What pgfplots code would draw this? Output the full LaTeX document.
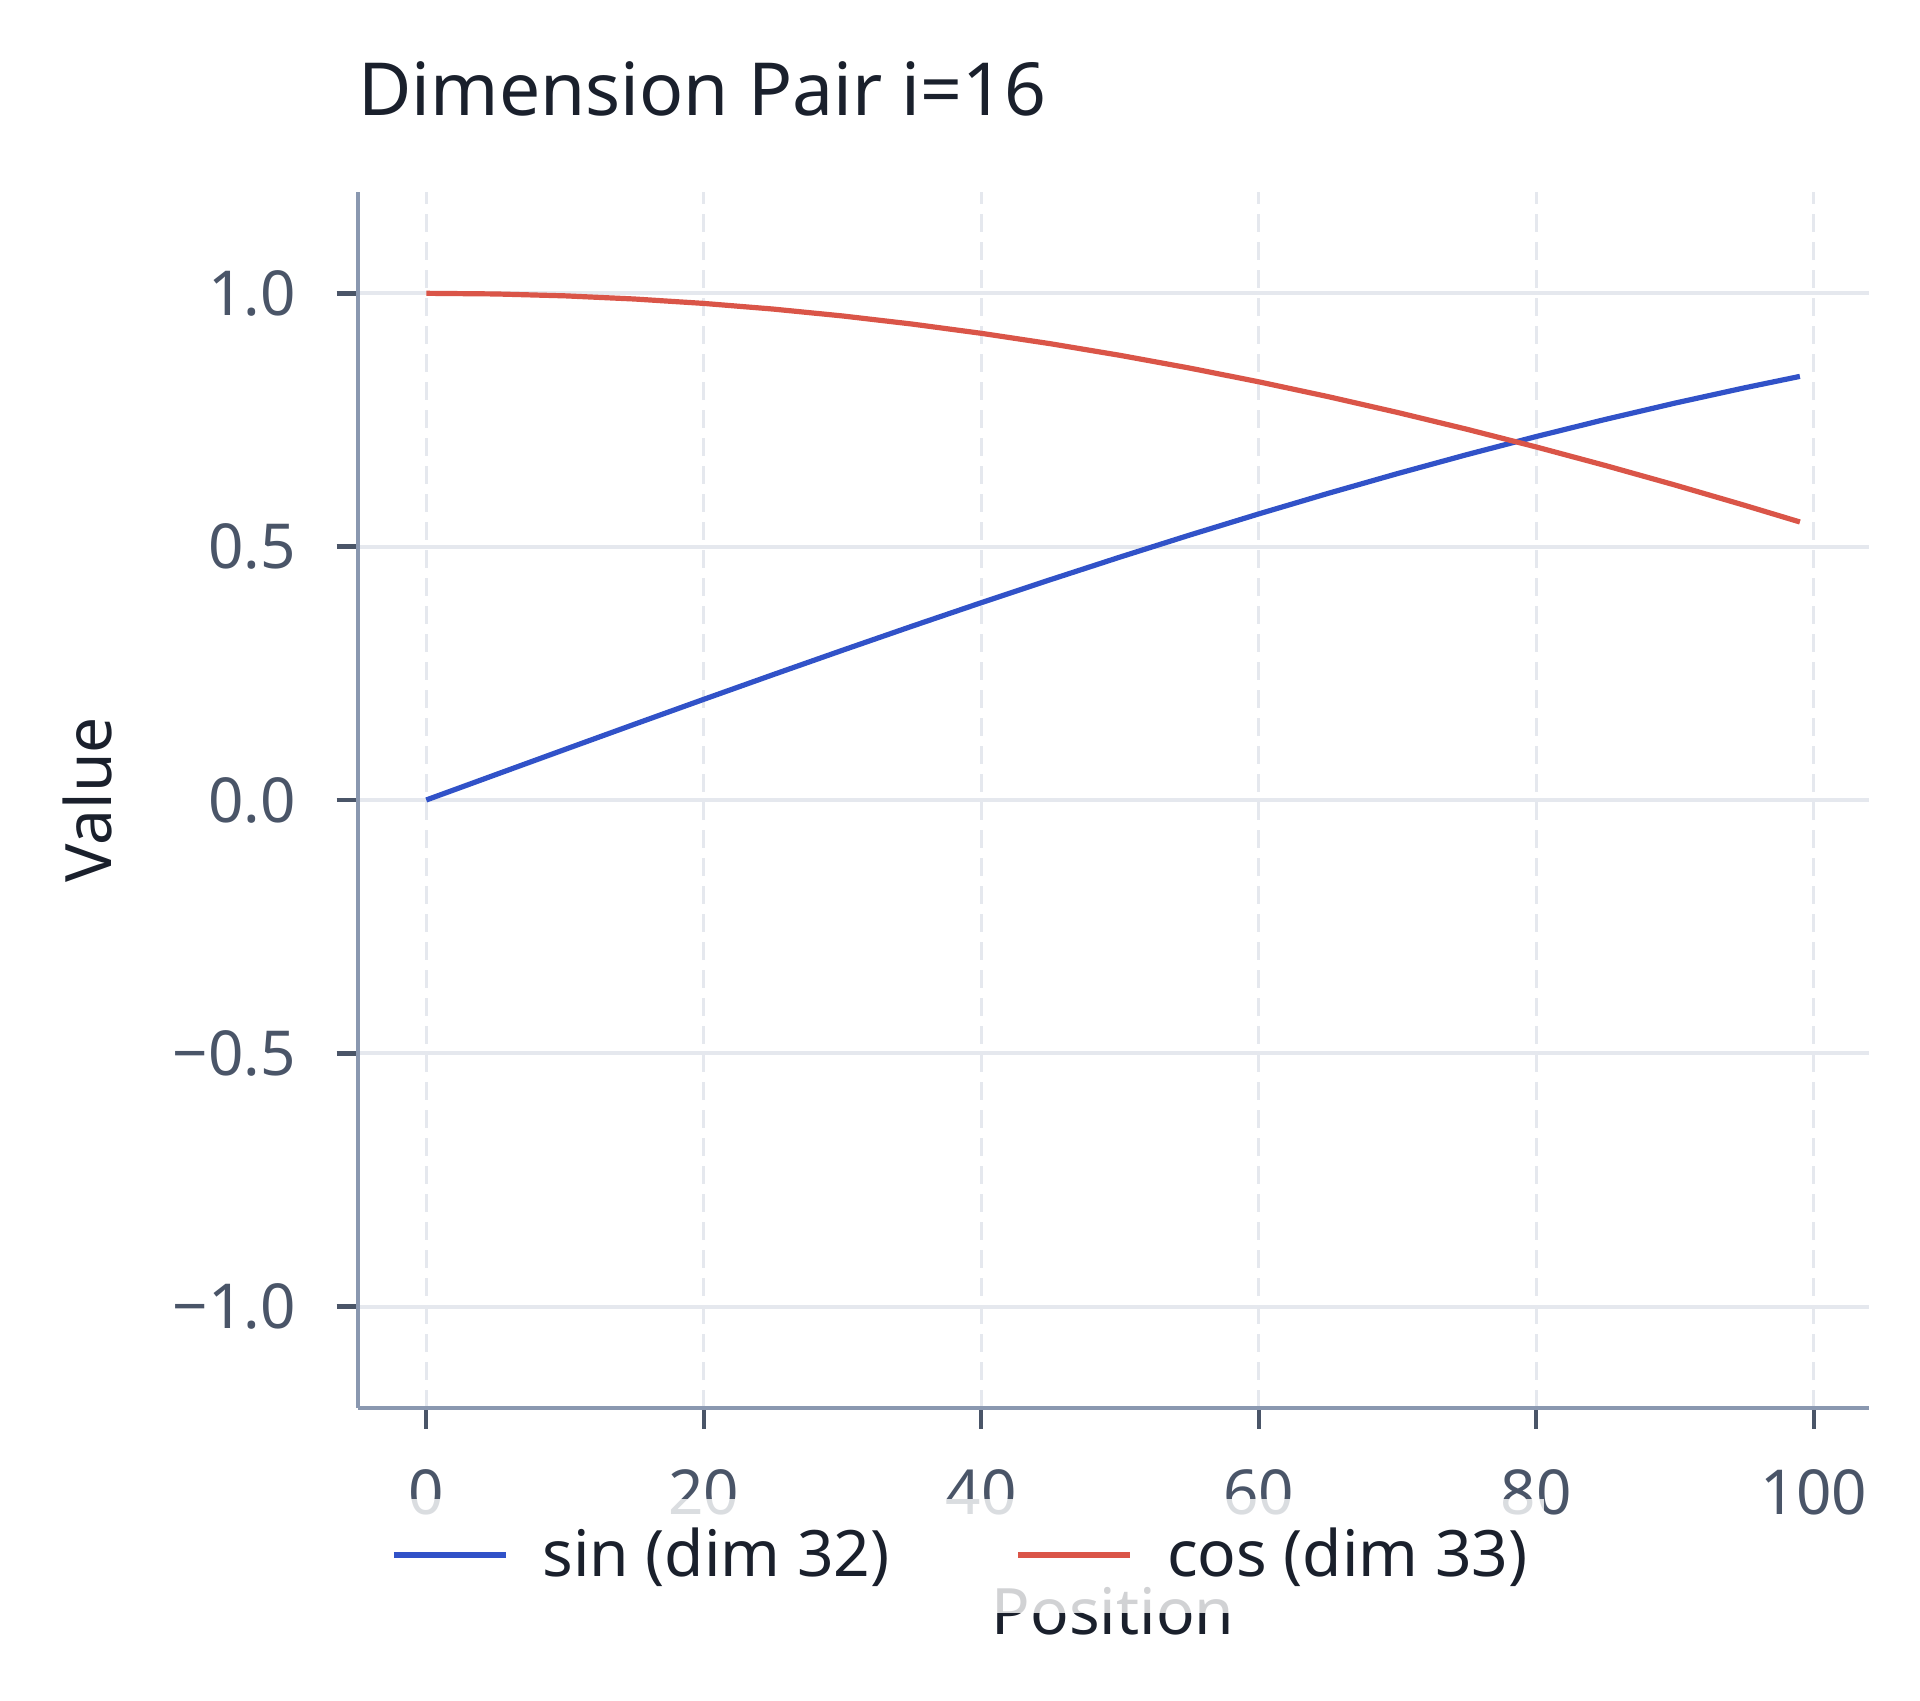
\documentclass[border=0pt]{standalone}
\usepackage{fontspec}
\setmainfont{Noto Sans}
\usepackage{pgfplots}
\pgfplotsset{compat=1.18}

\definecolor{sincol}{HTML}{3152C8}
\definecolor{coscol}{HTML}{DA5548}
\definecolor{spine}{HTML}{8A98B0}
\definecolor{tickc}{HTML}{4A5568}
\definecolor{gridc}{HTML}{E5E8EE}
\definecolor{titlec}{HTML}{1A202C}

% position, sin (dim 32), cos (dim 33)
\pgfplotstableread{
pos  s        c
0    0.00000  1.00000
5    0.04998  0.99875
10   0.09983  0.99500
15   0.14944  0.98877
20   0.19867  0.98007
25   0.24740  0.96891
30   0.29552  0.95534
35   0.34290  0.93937
40   0.38942  0.92106
45   0.43497  0.90045
50   0.47943  0.87758
55   0.52269  0.85252
60   0.56464  0.82534
65   0.60519  0.79608
70   0.64422  0.76484
75   0.68164  0.73169
80   0.71736  0.69671
85   0.75128  0.65998
90   0.78333  0.62161
95   0.81342  0.58168
99   0.83603  0.54869
}\pe

\begin{document}
\begin{tikzpicture}
\path[use as bounding box] (0,0) rectangle (480pt,425.25pt);
\begin{axis}[
    at={(89.4pt,73.25pt)}, anchor=south west,
    scale only axis,
    width=377.75pt, height=304pt,
    xmin=-4.95, xmax=103.95,
    ymin=-1.2, ymax=1.2,
    axis lines*=left,
    axis line style={spine, line width=1pt},
    xtick={0,20,40,60,80,100},
    xticklabels={0,20,40,60,80,100},
    ytick={-1,-0.5,0,0.5,1},
    yticklabels={−1.0,−0.5,0.0,0.5,1.0},
    tick align=outside,
    major tick length=5.25pt,
    tick style={tickc, line width=1.1pt},
    ticklabel style={tickc, font=\fontsize{15.5}{18}\selectfont},
    xticklabel style={anchor=north, inner sep=0pt, yshift=-10pt},
    yticklabel style={anchor=east, inner sep=0pt, xshift=-10pt},
    xmajorgrids, ymajorgrids,
    x grid style={gridc, line width=0.8pt, dash pattern=on 4.5pt off 2.5pt},
    y grid style={gridc, line width=1pt},
    title={Dimension Pair i=16},
    every axis title/.style={at={(rel axis cs:0,1)}, yshift=19pt, anchor=base west,
        inner sep=0pt, text=titlec, font=\fontsize{18.3}{22}\selectfont},
    xlabel={Position},
    every axis x label/.style={at={(rel axis cs:0.5,0)}, yshift=-56.75pt, anchor=base,
        inner sep=0pt, text=titlec, font=\fontsize{16}{19}\selectfont},
    ylabel={Value},
    every axis y label/.style={at={(rel axis cs:0,0.5)}, xshift=-67.4pt, rotate=90, anchor=center,
        inner sep=0pt, text=titlec, font=\fontsize{16}{19}\selectfont},
    legend image code/.code={\draw[#1, line width=1.3pt] (0pt,0.25pt) -- (28pt,0.25pt);},
    legend columns=2,
    legend style={at={(0.401,-0.1217)}, anchor=center, draw=none, fill=white,
        fill opacity=0.8, text opacity=1, text=titlec,
        font=\fontsize{16}{19}\selectfont, inner xsep=2pt, inner ysep=0pt,
        nodes={text height=17.5pt, text depth=7pt, inner ysep=2pt},
        /tikz/every odd column/.append style={column sep=6.5pt},
        /tikz/every even column/.append style={column sep=29.5pt}},
]
\addplot[sincol, line width=1.3pt] table[x=pos, y=s] {\pe};
\addplot[coscol, line width=1.3pt] table[x=pos, y=c] {\pe};
\legend{sin (dim 32), cos (dim 33)}
\end{axis}
\end{tikzpicture}
\end{document}
